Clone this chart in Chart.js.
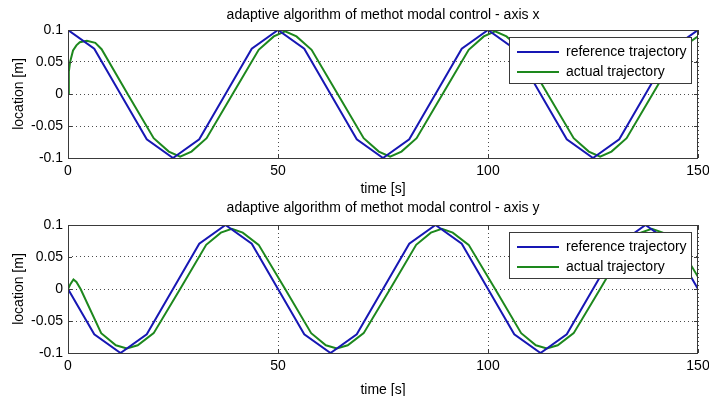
<!DOCTYPE html>
<html><head><meta charset="utf-8">
<script src="https://cdn.jsdelivr.net/npm/chart.js@4"></script>
<style>
html,body{margin:0;padding:0;background:#fff;overflow:hidden;width:709px;height:396px;}
.box{position:absolute;left:0;width:709px;height:198px;}
</style></head><body>
<div class="box" style="top:0"><canvas id="c1"></canvas></div>
<div class="box" style="top:198px"><canvas id="c2"></canvas></div>
<script>
// ---- data ----
const chartTitles = ['adaptive algorithm of methot modal control - axis x',
                     'adaptive algorithm of methot modal control - axis y'];
const seriesNames = ['reference trajectory', 'actual trajectory'];
const xAxisTitle = 'time [s]';
const yAxisTitle = 'location [m]';
const xTicks = [0, 50, 100, 150];
const xTickLabels = ['0', '50', '100', '150'];
const yTicks = [-0.1, -0.05, 0, 0.05, 0.1];
const yTickLabels = ['-0.1', '-0.05', '0', '0.05', '0.1'];

// reference trajectory (both axes share the same time samples)
const refTime = [0, 6.25, 12.5, 18.75, 25, 31.25, 37.5, 43.75, 50, 56.25, 62.5, 68.75, 75,
                 81.25, 87.5, 93.75, 100, 106.25, 112.5, 118.75, 125, 131.25, 137.5, 143.75, 150];
const refX = [0.1, 0.0707, 0, -0.0707, -0.1, -0.0707, 0, 0.0707, 0.1, 0.0707, 0, -0.0707, -0.1,
              -0.0707, 0, 0.0707, 0.1, 0.0707, 0, -0.0707, -0.1, -0.0707, 0, 0.0707, 0.1];
const refY = [0, -0.0707, -0.1, -0.0707, 0, 0.0707, 0.1, 0.0707, 0, -0.0707, -0.1, -0.0707, 0,
              0.0707, 0.1, 0.0707, 0, -0.0707, -0.1, -0.0707, 0, 0.0707, 0.1, 0.0707, 0];

// actual trajectory, axis x
const actTimeX = [0, 0.2, 0.5, 1.2, 2, 2.8, 4.5, 6.5, 8,
                  14.2, 20.4, 24, 26.7, 29.4, 33,
                  39.2, 45.4, 49, 51.7, 54.4, 58,
                  64.2, 70.4, 74, 76.7, 79.4, 83,
                  89.2, 95.4, 99, 101.7, 104.4, 108,
                  114.2, 120.4, 124, 126.7, 129.4, 133,
                  139.2, 145.4, 150];
const actX = [0, 0.035, 0.05, 0.068, 0.076, 0.081, 0.083, 0.08, 0.07,
              0, -0.069, -0.09, -0.098, -0.09, -0.069,
              0, 0.069, 0.09, 0.098, 0.09, 0.069,
              0, -0.069, -0.09, -0.098, -0.09, -0.069,
              0, 0.069, 0.09, 0.098, 0.09, 0.069,
              0, -0.069, -0.09, -0.098, -0.09, -0.069,
              0, 0.069, 0.09];

// actual trajectory, axis y
const actTimeY = [0, 0.6, 1.3, 2, 3,
                  7.9, 11.4, 14, 16.6, 20.4,
                  26.7, 32.9, 36.4, 39, 41.6, 45.4,
                  51.7, 57.9, 61.4, 64, 66.6, 70.4,
                  76.7, 82.9, 86.4, 89, 91.6, 95.4,
                  101.7, 107.9, 111.4, 114, 116.6, 120.4,
                  126.7, 132.9, 136.4, 139, 141.6, 145.4,
                  150];
const actY = [0, 0.008, 0.015, 0.011, 0,
              -0.069, -0.088, -0.093, -0.088, -0.069,
              0, 0.069, 0.088, 0.094, 0.088, 0.069,
              0, -0.069, -0.088, -0.093, -0.088, -0.069,
              0, 0.069, 0.088, 0.094, 0.088, 0.069,
              0, -0.069, -0.088, -0.093, -0.088, -0.069,
              0, 0.069, 0.088, 0.094, 0.088, 0.069,
              0.019];

// ---- styling ----
const BLUE = '#1717b4';
const GREEN = '#1d881d';
const FRAME = '#3a3a3a';
const GRID = 'rgba(0,0,0,0.7)';
Chart.defaults.font.family = '"Liberation Sans", Arial, sans-serif';
Chart.defaults.font.size = 14;
Chart.defaults.color = '#000';

const framePlugin = {
  id: 'frameAndLegend',
  afterLayout(chart) {
    const a = chart.chartArea, lg = chart.legend;
    const bx = a.left + 441, by = a.top + 7, bw = 182, bh = 46;
    chart.$legendBox = {bx, by, bw, bh};
    lg.left = bx + 2; lg.top = by + 2; lg.right = bx + bw; lg.bottom = by + bh + 10;
    lg.width = bw - 2; lg.height = bh + 8;
  },
  afterDatasetsDraw(chart) {
    const ctx = chart.ctx, a = chart.chartArea;
    const xs = chart.scales.x, ys = chart.scales.y;
    ctx.save();
    ctx.strokeStyle = FRAME;
    ctx.lineWidth = 1;
    ctx.strokeRect(Math.round(a.left) + 0.5, Math.round(a.top) + 0.5,
                   Math.round(a.right - a.left) - 1, Math.round(a.bottom - a.top));
    ctx.beginPath();
    xTicks.forEach(v => {
      const p = Math.round(xs.getPixelForValue(v)) + 0.5;
      ctx.moveTo(p, a.bottom); ctx.lineTo(p, a.bottom - 4);
      ctx.moveTo(p, a.top); ctx.lineTo(p, a.top + 4);
    });
    yTicks.forEach(v => {
      const p = Math.round(ys.getPixelForValue(v)) + 0.5;
      ctx.moveTo(a.left, p); ctx.lineTo(a.left + 4, p);
      ctx.moveTo(a.right, p); ctx.lineTo(a.right - 4, p);
    });
    ctx.stroke();
    const {bx, by, bw, bh} = chart.$legendBox;
    ctx.fillStyle = '#fff';
    ctx.fillRect(bx, by, bw, bh);
    ctx.strokeStyle = FRAME;
    ctx.strokeRect(bx + 0.5, by + 0.5, bw, bh);
    ctx.restore();
    chart.legend.draw();
  }
};

function makeChart(id, title, titlePad, vRef, tAct, vAct, xAxisH, xTitlePadBottom) {
  const pts = (t, v) => t.map((tt, i) => ({x: tt, y: v[i]}));
  return new Chart(document.getElementById(id), {
    type: 'line',
    data: {
      datasets: [
        {label: seriesNames[0], data: pts(refTime, vRef), borderColor: BLUE, backgroundColor: BLUE,
         borderWidth: 2, pointRadius: 0, fill: false, tension: 0},
        {label: seriesNames[1], data: pts(tAct, vAct), borderColor: GREEN, backgroundColor: GREEN,
         borderWidth: 2, pointRadius: 0, fill: false, tension: 0}
      ]
    },
    options: {
      responsive: true, maintainAspectRatio: false, animation: false,
      events: [],
      layout: {padding: {left: 0, right: 11, top: 0, bottom: 0}},
      plugins: {
        title: {display: true, text: title, fullSize: false, font: {size: 14, weight: 'normal'},
                color: '#000', padding: titlePad},
        legend: {position: 'chartArea', align: 'start',
                 labels: {usePointStyle: true, pointStyle: 'line', pointStyleWidth: 42,
                          padding: 6, font: {size: 14}, color: '#000'}},
        tooltip: {enabled: false}
      },
      scales: {
        x: {
          type: 'linear', min: 0, max: 150,
          afterBuildTicks: s => { s.ticks = xTicks.map(v => ({value: v})); },
          afterFit: s => { s.height = xAxisH; s.paddingLeft = 0; s.paddingRight = 0; },
          ticks: {callback: (v, i) => xTickLabels[i], padding: 5, maxRotation: 0, autoSkip: false,
                  font: {size: 14}, color: '#000'},
          grid: {drawTicks: false, color: GRID, lineWidth: 1},
          border: {display: false, dash: [1, 3]},
          title: {display: true, text: xAxisTitle, font: {size: 14}, color: '#000',
                  padding: {top: 0, bottom: xTitlePadBottom}}
        },
        y: {
          type: 'linear', min: -0.1, max: 0.1,
          afterBuildTicks: s => { s.ticks = yTicks.map(v => ({value: v})); },
          afterFit: s => { s.width = 68; s.paddingTop = 0; s.paddingBottom = 0; },
          ticks: {callback: (v, i) => yTickLabels[i], padding: 5, font: {size: 14}, color: '#000'},
          grid: {drawTicks: false, color: GRID, lineWidth: 1},
          border: {display: false, dash: [1, 3]},
          title: {display: true, text: yAxisTitle, font: {size: 14}, color: '#000',
                  padding: {top: 10.6, bottom: 0}}
        }
      }
    },
    plugins: [framePlugin]
  });
}

makeChart('c1', chartTitles[0], {top: 6.6, bottom: 6.6}, refX, actTimeX, actX, 40, 0);
makeChart('c2', chartTitles[1], {top: 1.6, bottom: 8.6}, refY, actTimeY, actY, 43, -2.4);
</script>
</body></html>
